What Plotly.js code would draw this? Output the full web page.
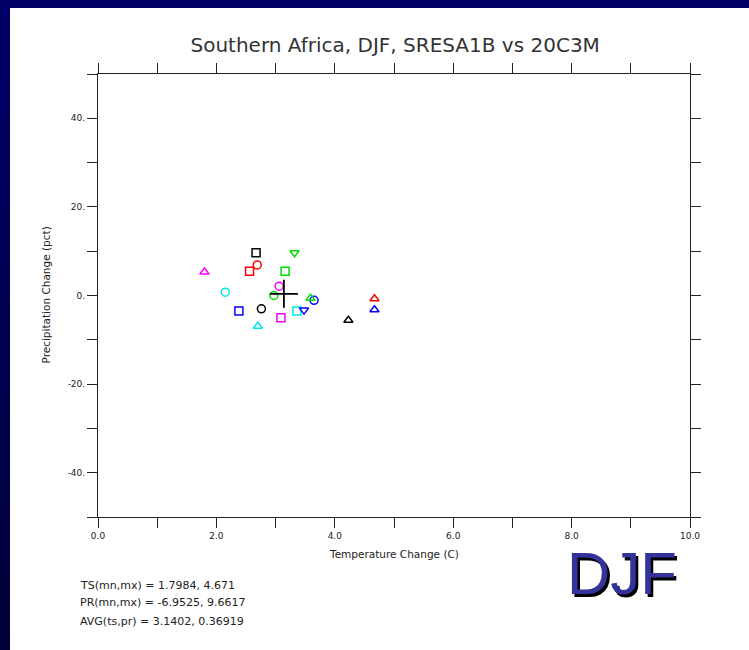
<!DOCTYPE html>
<html>
<head>
<meta charset="utf-8">
<script src="https://cdn.plot.ly/plotly-3.0.1.min.js"></script>
<style>
  html, body { margin: 0; padding: 0; }
  body {
    width: 749px; height: 650px; overflow: hidden;
    background: linear-gradient(#00006a, #000038);
    position: relative;
  }
  #chart {
    position: absolute; left: 10px; top: 8px;
    width: 739px; height: 642px; background: #ffffff;
  }
</style>
</head>
<body>
<div id="chart"></div>
<script>
// Model colour order used for every symbol group
const modelColors = ['#000000', '#ff0000', '#00dd00', '#0000ff', '#00e8e8', '#ff00ff'];

// Squares (black, red, green, blue, cyan, magenta)
const squareTemp   = [2.67, 2.56, 3.16, 2.38, 3.36, 3.09];
const squarePrecip = [9.6617, 5.5, 5.5, -3.5, -3.5, -5.0];

// Circles (black, red, green, blue, cyan, magenta)
const circleTemp   = [2.76, 2.69, 2.97, 3.65, 2.15, 3.06];
const circlePrecip = [-3.0, 6.9, 0.0, -1.1, 0.75, 2.1];

// Upward triangles (black, red, green, blue, cyan, magenta)
const triUpTemp   = [4.23, 4.671, 3.59, 4.67, 2.70, 1.7984];
const triUpPrecip = [-5.6, -0.75, -0.6, -3.2, -6.9525, 5.3];

// Downward triangles (green, blue)
const triDownTemp   = [3.32, 3.48];
const triDownPrecip = [9.66, -3.3];
const triDownColors = ['#00dd00', '#0000ff'];

// Summary statistics
const tsRange  = ['1.7984', '4.671'];
const prRange  = ['-6.9525', '9.6617'];
const avgPoint = [3.1402, 0.36919];

// Axis ticks
const xTickVals = [0, 1, 2, 3, 4, 5, 6, 7, 8, 9, 10];
const xTickText = ['0.0', '', '2.0', '', '4.0', '', '6.0', '', '8.0', '', '10.0'];
const yTickVals = [-50, -40, -30, -20, -10, 0, 10, 20, 30, 40, 50];
const yTickText = ['', '-40.', '', '-20.', '', '0.', '', '20.', '', '40.', ''];

const titleText = 'Southern Africa, DJF, SRESA1B vs 20C3M';
const xTitle = 'Temperature Change (C)';
const yTitle = 'Precipitation Change (pct)';
const seasonLabel = 'DJF';

const FONT = 'DejaVu Sans, sans-serif';
const ink = '#222222';

function group(xs, ys, symbol, colors) {
  return {
    type: 'scatter', mode: 'markers', x: xs, y: ys,
    hoverinfo: 'skip', showlegend: false,
    marker: {
      symbol: symbol, size: 8, color: colors,
      line: { color: colors, width: 1.5 }
    }
  };
}

const traces = [
  group(squareTemp, squarePrecip, 'square-open', modelColors),
  group(circleTemp, circlePrecip, 'circle-open', modelColors),
  group(triUpTemp, triUpPrecip, 'triangle-up-open', modelColors),
  group(triDownTemp, triDownPrecip, 'triangle-down-open', triDownColors),
  {
    type: 'scatter', mode: 'markers',
    x: [avgPoint[0]], y: [avgPoint[1]],
    hoverinfo: 'skip', showlegend: false,
    marker: { symbol: 'cross-thin-open', size: 20, color: '#000000',
              line: { color: '#000000', width: 1.8 } }
  }
];

const axisCommon = {
  showgrid: false, zeroline: false,
  showline: true, linecolor: ink, linewidth: 1,
  mirror: 'allticks', ticks: 'outside', ticklen: 10, tickwidth: 1, tickcolor: ink,
  tickmode: 'array', fixedrange: true,
  tickfont: { family: FONT, size: 9, color: ink }
};

const statsLines = [
  'TS(mn,mx) = ' + tsRange.join(', '),
  'PR(mn,mx) = ' + prRange.join(', '),
  'AVG(ts,pr) = ' + avgPoint.join(', ')
];
const statsY = [-0.1535, -0.194, -0.237];

const annotations = [
  { text: xTitle, xref: 'paper', yref: 'paper', x: 0.5, y: -0.083,
    xanchor: 'center', yanchor: 'middle', showarrow: false,
    font: { family: FONT, size: 10.5, color: ink } },
  { text: yTitle, xref: 'paper', yref: 'paper', x: -0.0895, y: 0.5,
    xanchor: 'center', yanchor: 'middle', textangle: -90, showarrow: false,
    font: { family: FONT, size: 10.5, color: ink } },
  // season label with a drop shadow
  { text: seasonLabel, xref: 'paper', yref: 'paper', x: 0.885, y: -0.128,
    xanchor: 'center', yanchor: 'middle', showarrow: false,
    font: { family: 'Liberation Sans, Arial, sans-serif', size: 60, color: '#333399',
            shadow: '2.5px 2.5px 0px #000000' } }
];
statsLines.forEach((t, i) => annotations.push({
  text: t, xref: 'paper', yref: 'paper', x: -0.033, y: statsY[i],
  xanchor: 'left', yanchor: 'middle', showarrow: false,
  font: { family: FONT, size: 11, color: ink }
}));

const layout = {
  width: 739, height: 642,
  margin: { l: 88, r: 59, t: 66, b: 133 },
  paper_bgcolor: '#ffffff', plot_bgcolor: '#ffffff',
  title: {
    text: titleText, x: 0.502, xref: 'paper', xanchor: 'center',
    y: 0.9424, yref: 'container', yanchor: 'middle',
    font: { family: FONT, size: 20, color: '#333333' }
  },
  xaxis: Object.assign({}, axisCommon, {
    range: [0, 10], tickvals: xTickVals, ticktext: xTickText
  }),
  yaxis: Object.assign({}, axisCommon, {
    range: [-50, 50], tickvals: yTickVals, ticktext: yTickText
  }),
  annotations: annotations
};

Plotly.newPlot('chart', traces, layout, { staticPlot: true, displayModeBar: false });
</script>
</body>
</html>
